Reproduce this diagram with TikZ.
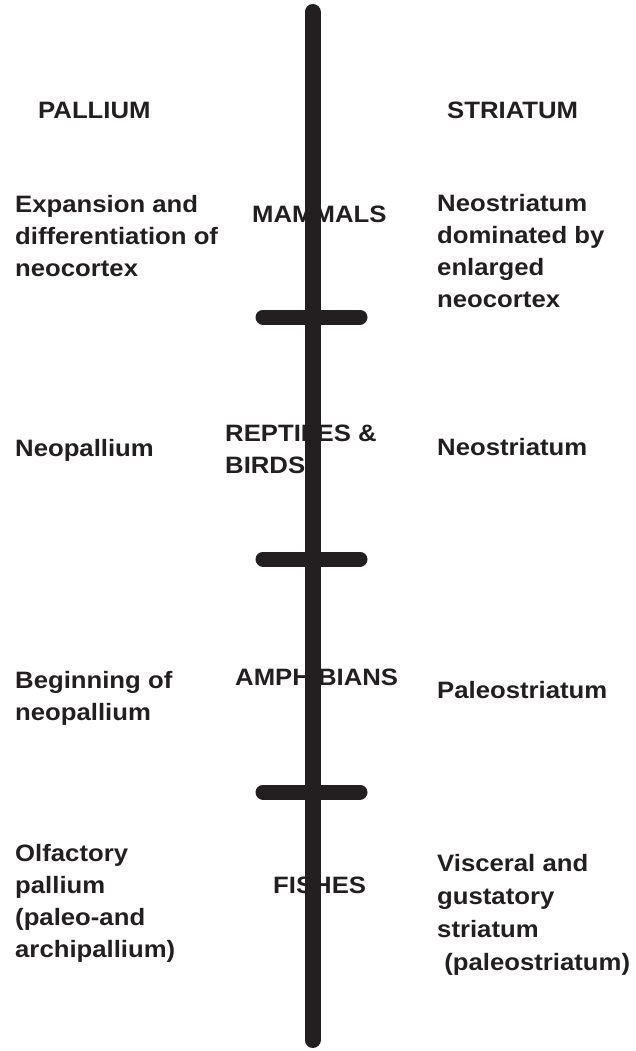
\documentclass[tikz,border=0pt]{standalone}
\usepackage{fontspec}
\setmainfont{Liberation Sans}[FakeStretch=1.085]
\usepackage{xcolor}
\definecolor{ink}{HTML}{231F20}

\begin{document}
\begin{tikzpicture}[x=1pt, y=-1pt,
    every node/.style={text=ink, inner sep=0pt, anchor=base west, align=left,
      font=\fontsize{23.7}{32}\selectfont\bfseries},
    wide/.style={font=\fontsize{23.7}{32.7}\selectfont\bfseries},
    axis/.style={ink, line width=16pt, line cap=round},
    tick/.style={ink, line width=15pt, line cap=round}]
        \useasboundingbox (0,0) rectangle (636,1051);
        % Headings
        \node (pall) at (38,119) {PALLIUM};
        \node (stri) at (447,119) {STRIATUM};
        % Pallium column (y = baseline of last line)
        \node (palA) at (15,276) {Expansion and\\differentiation of\\neocortex};
        \node (palB) at (15,456) {Neopallium};
        \node (palC) at (15,720) {Beginning of\\neopallium};
        \node (palD) at (15,957) {Olfactory\\pallium\\(paleo-and\\archipallium)};
        % Classes
        \node (mamm) at (252,222) {MAMMALS};
        \node (rept) at (225,473) {REPTILES \&\\BIRDS};
        \node (amph) at (235,685) {AMPHIBIANS};
        \node (fish) at (273,893) {FISHES};
        % Striatum column
        \node (strA) at (437,307) {Neostriatum\\dominated by\\enlarged\\neocortex};
        \node (strB) at (437,455) {Neostriatum};
        \node (strC) at (437,698) {Paleostriatum};
        \node[wide] (strD) at (437,970) {Visceral and\\gustatory\\striatum\\\ (paleostriatum)};
        % Time axis with dividers
        \coordinate (top) at (312.5,12);
        \coordinate (bot) at (312.5,1040);
        \draw[axis] (top) -- (bot);
        \foreach \y/\n in {317/one, 559/two, 792/three} {
          \coordinate (\n L) at (263,\y);
          \coordinate (\n R) at (360,\y);
          \draw[tick] (\n L) -- (\n R);
        }
\end{tikzpicture}
\end{document}
